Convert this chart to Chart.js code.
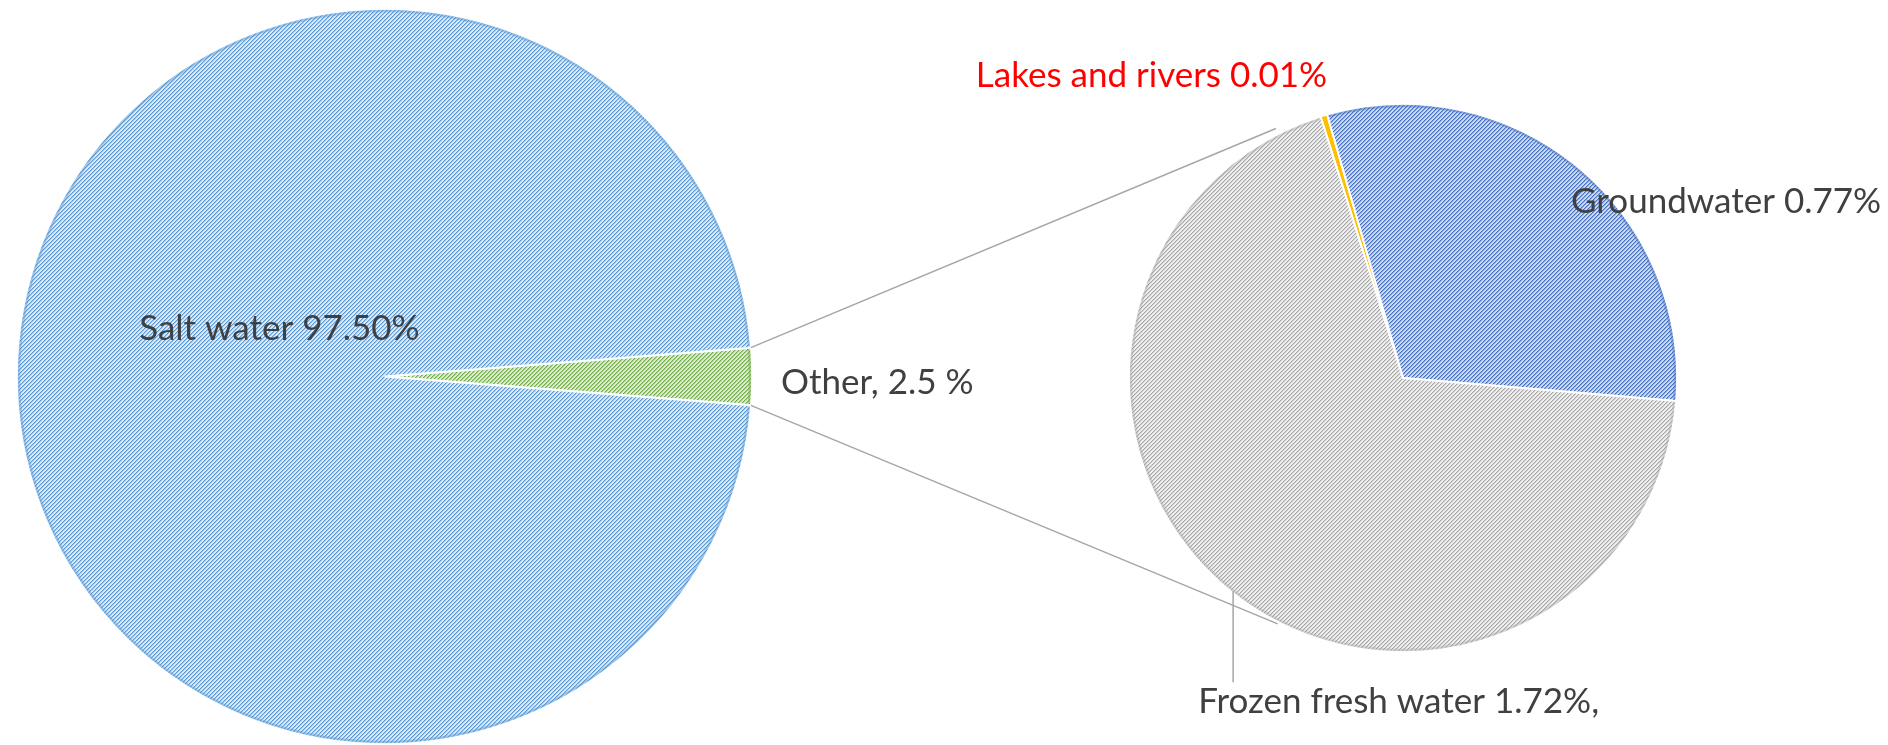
<!DOCTYPE html>
<html><head><meta charset="utf-8">
<script src="https://cdn.jsdelivr.net/npm/chart.js@4.4.1/dist/chart.umd.min.js"></script>
<style>
html,body{margin:0;padding:0;background:#fff;}
#wrap{position:relative;width:1888px;height:745px;overflow:hidden;}
#wrap canvas{position:absolute;left:0;top:0;}
</style></head><body>
<div id="wrap"><canvas id="c1" width="1888" height="745"></canvas><canvas id="c2" width="1888" height="745"></canvas></div>
<script>
// ---- data ----
const mainLabels = ['Other', 'Salt water'];
const mainValues = [2.5, 97.5];
const mainTexts = ['Other, 2.5 %', 'Salt water 97.50%'];
const subLabels = ['Lakes and rivers', 'Groundwater', 'Frozen fresh water'];
const subValues = [0.01, 0.77, 1.72];
const subTexts = ['Lakes and rivers 0.01%', 'Groundwater 0.77%', 'Frozen fresh water 1.72%,'];

// ---- styles ----
const FONT = '35px Lato, "Liberation Sans", sans-serif';
const TEXT = '#404040';
function hatch(light, mid, dark) {
  const c = document.createElement('canvas'); c.width = 4; c.height = 4;
  const g = c.getContext('2d');
  g.fillStyle = light; g.fillRect(0, 0, 4, 4);
  for (let y = 0; y < 4; y++) for (let x = 0; x < 4; x++) {
    const m = (x + y) % 4;
    if (m === 0) { g.fillStyle = dark; g.fillRect(x, y, 1, 1); }
    if (m === 1) { g.fillStyle = mid; g.fillRect(x, y, 1, 1); }
  }
  return g.createPattern(c, 'repeat');
}
const mainColors = [hatch('#dcebd2', '#a9cf8f', '#70ad47'), hatch('#dbe8f7', '#a3c5eb', '#5b9bd5')];
const mainEdge = ['rgba(112,173,71,0.5)', 'rgba(91,155,213,0.45)'];
const subColors = ['#ffc000', hatch('#ccd8f0', '#8ba8de', '#4472c4'), hatch('#efefef', '#d2d2d2', '#a4a4a4')];
const subEdge = ['rgba(255,192,0,0.6)', 'rgba(68,114,196,0.45)', 'rgba(170,170,170,0.4)'];

function edgePlugin(edges) {
  return {
    id: 'edge',
    afterDatasetsDraw(chart) {
      const c = chart.ctx;
      chart.getDatasetMeta(0).data.forEach((a, i) => {
        c.save();
        c.strokeStyle = edges[i];
        c.lineWidth = 2.5;
        c.beginPath();
        c.arc(a.x, a.y, a.outerRadius - 2, a.startAngle + 0.004, a.endAngle - 0.004);
        c.stroke();
        c.restore();
      });
    }
  };
}

const sumMain = mainValues.reduce((s, v) => s + v, 0);
const leftChart = new Chart(document.getElementById('c1'), {
  type: 'pie',
  data: { labels: mainLabels, datasets: [{ data: mainValues, backgroundColor: mainColors, borderColor: '#ffffff', borderWidth: 2 }] },
  options: {
    responsive: false, animation: false, events: [],
    rotation: 90 - mainValues[0] / sumMain * 180,
    layout: { padding: { left: 16, right: 1135, top: 8, bottom: 0 } },
    plugins: { legend: { display: false }, tooltip: { enabled: false } }
  },
  plugins: [edgePlugin(mainEdge), {
    id: 'leftLabels',
    afterDraw(chart) {
      const a = chart.getDatasetMeta(0).data[0];
      const R = a.outerRadius, c = chart.ctx;
      c.save();
      c.font = FONT; c.fillStyle = TEXT; c.textAlign = 'center'; c.textBaseline = 'middle';
      c.fillText(mainTexts[1], a.x - 0.286 * R, a.y - 0.13 * R);
      c.fillText(mainTexts[0], a.x + 1.341 * R, a.y + 0.018 * R);
      c.restore();
    }
  }]
});

const rightChart = new Chart(document.getElementById('c2'), {
  type: 'pie',
  data: { labels: subLabels, datasets: [{ data: subValues, backgroundColor: subColors, borderColor: '#ffffff', borderWidth: 2 }] },
  options: {
    responsive: false, animation: false, events: [],
    rotation: -17.5,
    layout: { padding: { left: 1126, right: 208, top: 103, bottom: 92 } },
    plugins: { legend: { display: false }, tooltip: { enabled: false } }
  },
  plugins: [edgePlugin(subEdge), {
    id: 'connectors',
    afterDraw(chart) {
      const c = chart.ctx;
      const o = leftChart.getDatasetMeta(0).data[0];
      const s = chart.getDatasetMeta(0).data[0];
      const R = s.outerRadius;
      const ang = 117 * Math.PI / 180;
      c.save();
      c.strokeStyle = '#a6a6a6'; c.lineWidth = 1.5;
      c.beginPath();
      c.moveTo(o.x + o.outerRadius * Math.cos(o.startAngle), o.y + o.outerRadius * Math.sin(o.startAngle));
      c.lineTo(s.x + (R + 6) * Math.cos(-ang), s.y + (R + 6) * Math.sin(-ang));
      c.moveTo(o.x + o.outerRadius * Math.cos(o.endAngle), o.y + o.outerRadius * Math.sin(o.endAngle));
      c.lineTo(s.x + (R + 2) * Math.cos(ang), s.y + (R + 2) * Math.sin(ang));
      // leader for frozen label
      const lx = s.x - 0.62 * R;
      c.moveTo(lx, s.y + Math.sqrt(R * R - (0.62 * R) * (0.62 * R)) - 2);
      c.lineTo(lx, s.y + 1.11 * R);
      c.stroke();
      c.font = FONT; c.textAlign = 'center'; c.textBaseline = 'middle';
      c.fillStyle = '#ff0000';
      c.fillText(subTexts[0], s.x - 0.918 * R, s.y - 1.102 * R);
      c.fillStyle = TEXT;
      c.fillText(subTexts[1], s.x + 1.179 * R, s.y - 0.642 * R);
      c.fillText(subTexts[2], s.x - 0.016 * R, s.y + 1.182 * R);
      c.restore();
    }
  }]
});
</script>
</body></html>
